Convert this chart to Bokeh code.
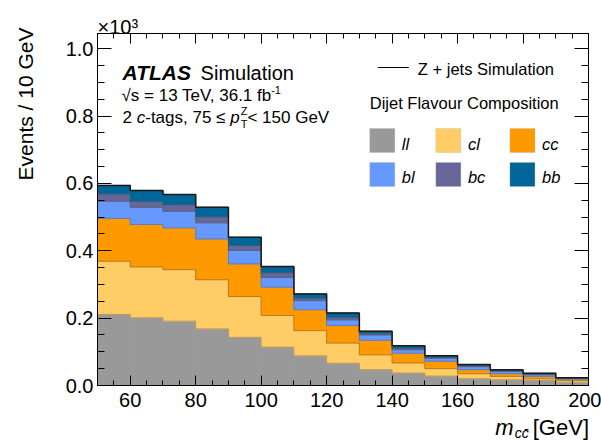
from bokeh.plotting import figure
from bokeh.models import (ColumnDataSource, Label, BoxAnnotation, LinearAxis,
                          SingleIntervalTicker, NumeralTickFormatter, Range1d)
from bokeh.embed import file_html
from bokeh.resources import INLINE

# ---------------- data (events per 10 GeV bin) ----------------
bin_edges = [50, 60, 70, 80, 90, 100, 110, 120, 130, 140, 150, 160, 170, 180, 190, 200]
ll = [211, 201, 191, 168, 143, 114, 88, 66, 47, 37, 28, 20, 17, 15, 10]
cl = [158, 151, 153, 146, 121, 94, 75, 60, 44, 30, 22, 15, 10, 5, 5]
cc = [127, 126, 124, 121, 97, 84, 62, 52, 43, 29, 22, 12, 8, 7, 4]
bl = [51, 51, 49, 48, 40, 29, 27, 17, 16, 10, 9, 9, 7, 5, 2]
bc = [22, 18, 20, 18, 15, 14, 8, 8, 5, 5, 3, 3, 2, 2, 1]
bb = [25, 32, 30, 28, 24, 18, 12, 12, 6, 7, 4, 3, 3, 2, 1]
flavours = ["ll", "cl", "cc", "bl", "bc", "bb"]
colors = ["#999999", "#ffcc66", "#ff9900", "#6699ff", "#666699", "#006699"]
series = [ll, cl, cc, bl, bc, bb]
scale = 1000.0  # y axis in units of 10^3

# ---------------- layout helpers ----------------
W, H = 601, 442
FL, FR, FT, FB = 97, 587.5, 33, 385
XMIN, XMAX, YMIN, YMAX = 50, 200, 0.0, 1.045
FONT = "Liberation Sans"


def dx(px):
    return XMIN + (px - FL) * (XMAX - XMIN) / (FR - FL)


def dy(py):
    return YMIN + (FB - py) * (YMAX - YMIN) / (FB - FT)


AW = {' ': 278, '.': 278, ',': 278, '-': 333, '=': 584, '+': 584, '<': 584,
      '\u2264': 549, '\u221a': 549, '\u00d7': 584, '/': 278, '[': 278, ']': 278,
      'A': 667, 'C': 722, 'D': 722, 'E': 667, 'F': 611, 'G': 778, 'L': 556,
      'S': 667, 'T': 611, 'V': 667, 'Z': 611, 'a': 556, 'b': 556, 'c': 500,
      'e': 556, 'f': 278, 'g': 556, 'i': 222, 'j': 222, 'l': 222, 'm': 833,
      'n': 556, 'o': 556, 'p': 556, 'r': 333, 's': 500, 't': 278, 'u': 556, 'v': 500}


def tw(s, size):
    return sum(AW.get(ch, 556) for ch in s) * size / 1000.0


p = figure(width=W, height=H, output_backend="svg", toolbar_location=None,
           x_range=Range1d(XMIN, XMAX), y_range=Range1d(YMIN, YMAX),
           min_border_left=FL, min_border_right=int(W - FR), min_border_top=FT,
           min_border_bottom=H - FB)
p.xgrid.grid_line_color = None
p.ygrid.grid_line_color = None
p.outline_line_color = "black"
p.outline_line_width = 1
p.background_fill_color = "white"
p.border_fill_color = "white"

# ---------------- stacked histogram ----------------
centers = [(a + b) / 2 for a, b in zip(bin_edges[:-1], bin_edges[1:])]
data = {"x": centers}
for name, vals in zip(flavours, series):
    data[name] = [v / scale for v in vals]
src = ColumnDataSource(data)
p.vbar_stack(flavours, x="x", width=10, color=colors, line_width=1, source=src)

cum = [0.0] * len(centers)
for i, vals in enumerate(series):
    cum = [c + v / scale for c, v in zip(cum, vals)]
    last = i == len(series) - 1
    p.step(x=bin_edges, y=cum + [cum[-1]], mode="after",
           line_color="#1a1a1a" if last else "#5a5a5a",
           line_alpha=1.0 if last else 0.45,
           line_width=1.5 if last else 1)

# ---------------- axes ----------------
xt = SingleIntervalTicker(interval=20, num_minor_ticks=4)
yt = SingleIntervalTicker(interval=0.2, num_minor_ticks=4)
xb = p.below[0]
yl = p.left[0]
xb.ticker = xt
yl.ticker = yt
yl.formatter = NumeralTickFormatter(format="0.0")
xa = LinearAxis(ticker=xt)
yr = LinearAxis(ticker=yt)
p.add_layout(xa, "above")
p.add_layout(yr, "right")
for ax in (xa, yr):
    ax.major_label_text_color = None
    ax.major_label_text_font_size = "1px"
    ax.major_label_standoff = 0

for ax in (xb, xa):
    ax.major_tick_in, ax.major_tick_out = 10, 0
    ax.minor_tick_in, ax.minor_tick_out = 5, 0
for ax in (yl, yr):
    ax.major_tick_in, ax.major_tick_out = 14, 0
    ax.minor_tick_in, ax.minor_tick_out = 7, 0
for ax in (xb, xa, yl, yr):
    ax.axis_line_color = "black"
    ax.major_tick_line_color = "black"
    ax.minor_tick_line_color = "black"
    ax.major_label_text_font = FONT
    ax.axis_label = None
for ax in (xb, yl):
    ax.major_label_text_color = "black"
    ax.major_label_text_font_size = "20px"
xb.major_label_standoff = 7
yl.major_label_standoff = 4

BASE_FIX = 0.3  # baseline correction (fraction of font size)


def lab(text, px, py, size, style="normal", align="left", angle=0, side="center"):
    if angle == 0:
        py = py - BASE_FIX * size
    else:
        px = px - BASE_FIX * size
    lb = Label(x=dx(px), y=dy(py), text=text, text_font=FONT,
               text_font_size=f"{size}px", text_font_style=style,
               text_align=align, text_baseline="alphabetic",
               angle=angle, angle_units="deg", text_color="black")
    p.add_layout(lb, side)


# texts outside the frame go into side panels (not clipped to the frame)
lab("Events / 10 GeV", 31, 27, 21, align="right", angle=90, side="left")
lab("[GeV]", 588, 434, 22, align="right", side="below")
mx = 588 - tw("[GeV]", 22) - 4 - tw("cc", 14) - tw("m", 22) - 1
lab("m", mx, 434, 22, style="italic", side="left")
lab("cc\u0304", mx + tw("m", 22) + 1, 437, 14, style="italic", side="left")
lab("\u00d710\u00b3", 97, 32, 20, side="above")

# ATLAS label
lab("ATLAS", 122, 78, 21, style="bold italic")
lab("Simulation", 200, 78, 20)

s1 = "\u221as = 13 TeV, 36.1 fb"
lab(s1, 121, 100, 17)
lab("-1", 121 + tw(s1, 17) - 4, 93, 11)

x0 = 122
pieces = [("2 ", "normal"), ("c", "italic"), ("-tags, 75 \u2264 ", "normal"), ("p", "italic")]
for t, st in pieces:
    lab(t, x0, 122, 17, style=st)
    x0 += tw(t, 17)
lab("Z", x0 + 1, 114, 11)
lab("T", x0 + 1, 127, 11)
lab(" < 150 GeV", x0 + 1 + tw("Z", 11), 122, 17)

# legend
p.line(x=[dx(377), dx(408)], y=[dy(67), dy(67)], line_color="black", line_width=1)
lab("Z + jets Simulation", 417, 73, 16.5)
lab("Dijet Flavour Composition", 369, 107, 16.5)
cols_px = [369, 435, 509]
rows_px = [(128, 152, 148), (162, 186, 181)]
for k, (name, col) in enumerate(zip(flavours, colors)):
    r, c = divmod(k, 3)
    top, bot, base = rows_px[r]
    left = cols_px[c]
    p.add_layout(BoxAnnotation(left=dx(left), right=dx(left + 25),
                               top=dy(top), bottom=dy(bot),
                               fill_color=col, fill_alpha=1.0,
                               line_color="#b0b0b0", line_width=1))
    lab(name, left + 32, base, 16.5, style="italic")

open("out.html", "w").write(file_html(p, INLINE))
